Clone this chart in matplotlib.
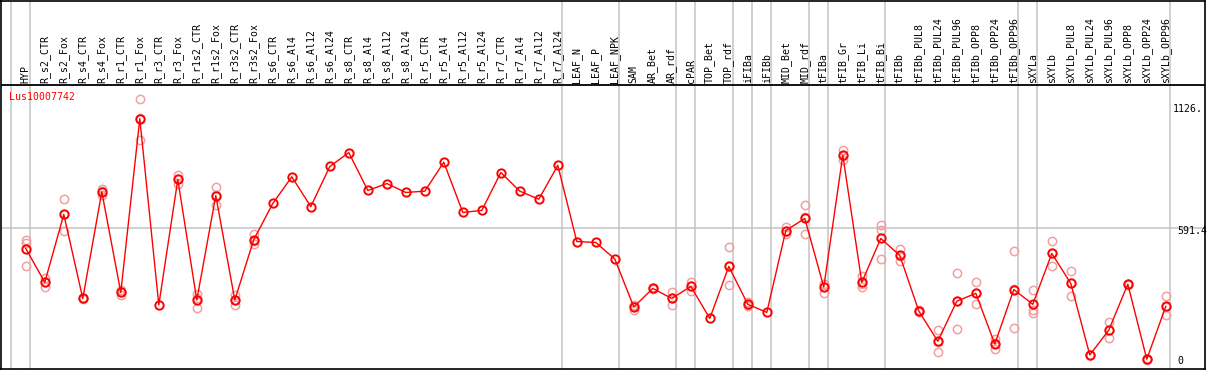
import matplotlib
matplotlib.use('Agg')
import matplotlib.pyplot as plt

plt.rcParams['font.family'] = 'DejaVu Sans Mono'

gene = 'Lus10007742'

samples = ['HYP', 'R_s2_CTR', 'R_s2_Fox', 'R_s4_CTR', 'R_s4_Fox', 'R_r1_CTR', 'R_r1_Fox',
           'R_r3_CTR', 'R_r3_Fox', 'R_r1s2_CTR', 'R_r1s2_Fox', 'R_r3s2_CTR', 'R_r3s2_Fox',
           'R_s6_CTR', 'R_s6_Al4', 'R_s6_Al12', 'R_s6_Al24', 'R_s8_CTR', 'R_s8_Al4',
           'R_s8_Al12', 'R_s8_Al24', 'R_r5_CTR', 'R_r5_Al4', 'R_r5_Al12', 'R_r5_Al24',
           'R_r7_CTR', 'R_r7_Al4', 'R_r7_Al12', 'R_r7_Al24', 'LEAF_N', 'LEAF_P', 'LEAF_NPK',
           'SAM', 'AR_Bet', 'AR_rdf', 'cPAR', 'TOP_Bet', 'TOP_rdf', 'iFIBa', 'iFIBb',
           'MID_Bet', 'MID_rdf', 'tFIBa', 'tFIB_Gr', 'tFIB_Li', 'tFIB_Bi', 'tFIBb',
           'tFIBb_PUL8', 'tFIBb_PUL24', 'tFIBb_PUL96', 'tFIBb_OPP8', 'tFIBb_OPP24',
           'tFIBb_OPP96', 'sXYLa', 'sXYLb', 'sXYLb_PUL8', 'sXYLb_PUL24', 'sXYLb_PUL96',
           'sXYLb_OPP8', 'sXYLb_OPP24', 'sXYLb_OPP96']

means = [502, 351, 654, 279, 755, 306, 1081, 250, 810, 272, 738, 272, 542,
         703, 822, 689, 868, 930, 761, 792, 752, 758, 887, 663, 672, 841, 758, 722, 873,
         533, 529, 455, 241, 324, 279, 333, 190, 422, 253, 217, 582, 636, 330, 918, 351,
         547, 471, 223, 88, 267, 302, 76, 319, 253, 480, 346, 27, 138, 343, 8, 244]

replicates = [[539, 527, 423], [371, 331, 352], [725, 582, 655], [283, 276, 279],
              [767, 760, 740], [318, 295, 306], [1171, 988, 1083], [],
              [829, 792, 810], [297, 236, 283], [778, 695, 740], [294, 250, 272],
              [569, 520, 537], [], [], [], [], [], [], [], [], [], [], [], [], [], [], [],
              [], [], [], [], [226, 245, 252], [324, 328, 320], [307, 251, 279],
              [353, 312, 334], [], [507, 337, 422], [264, 248, 247], [],
              [598, 569, 579], [698, 569, 641], [343, 304, 343], [943, 896, 915],
              [380, 330, 343], [606, 584, 453], [498, 447, 468], [223, 226, 220],
              [138, 39, 87], [391, 141, 269], [351, 253, 302], [97, 52, 79],
              [490, 146, 321], [315, 227, 215], [535, 422, 483], [401, 288, 349],
              [27, 25, 29], [174, 103, 137], [343, 345, 341], [8, 10, 6], [288, 204, 240]]

# last sample index of each group (gray separators)
group_ends = [-1, 0, 28, 31, 34, 35, 37, 38, 39, 41, 42, 45, 52, 53, 60]

y_ticks = [1126, 591.4, 0]
y_tick_labels = ['1126.', '591.4', '0']
mid_line = 591.4

W, H = 1209, 370
fig = plt.figure(figsize=(W / 100, H / 100), dpi=100)
ax = fig.add_axes([0.5 / W, 1 / H, 1204 / W, 368.5 / H])

# pixel mapping: x = 26.3 + 19*i ; y = 361 - 0.2244*v (from top)
ax.set_xlim((1 - 26.3) / 19, (1205 - 26.3) / 19)
ax.set_ylim((361 - 369) / 0.2244, 361 / 0.2244)
ax.set_xticks([])
ax.set_yticks([])
for s in ax.spines.values():
    s.set_color('black')
    s.set_linewidth(1.2)

gray = '#c4c4c4'
for g in group_ends:
    ax.axvline(g + 0.23, color=gray, lw=1.1, zorder=1)
ax.axhline(mid_line, color=gray, lw=1.1, zorder=1)

sep_y = (361 - 85) / 0.2244
ax.axhline(sep_y, color='black', lw=1.3, zorder=2)

label_y = (361 - 83) / 0.2244
for i, name in enumerate(samples):
    ax.text(i, label_y, name, rotation=90, ha='center', va='bottom',
            fontsize=7.1, color='black')

x = list(range(len(samples)))
for i, reps in enumerate(replicates):
    if reps:
        ax.plot([i] * len(reps), reps, 'o', ms=6, mfc='none', mec='#f0a0a0',
                mew=1.1, zorder=3, clip_on=False)

ax.plot(x, means, '-', color='red', lw=1.0, zorder=4)
ax.plot(x, means, 'o', ms=6, mfc='none', mec='red', mew=1.4, zorder=5)

ax.text((9.3 - 26.3) / 19, (361 - 97) / 0.2244, gene, color='red', fontsize=7.1,
        ha='left', va='center')

tick_x = [1173.5, 1178, 1178]
for tx, v, lab in zip(tick_x, y_ticks, y_tick_labels):
    off = 3 if lab == '591.4' else 0
    ax.text((tx - 26.3) / 19, v - off / 0.2244, lab, fontsize=7.1, color='black',
            ha='left', va='center', clip_on=False)

fig.savefig('out.png', dpi=100)
